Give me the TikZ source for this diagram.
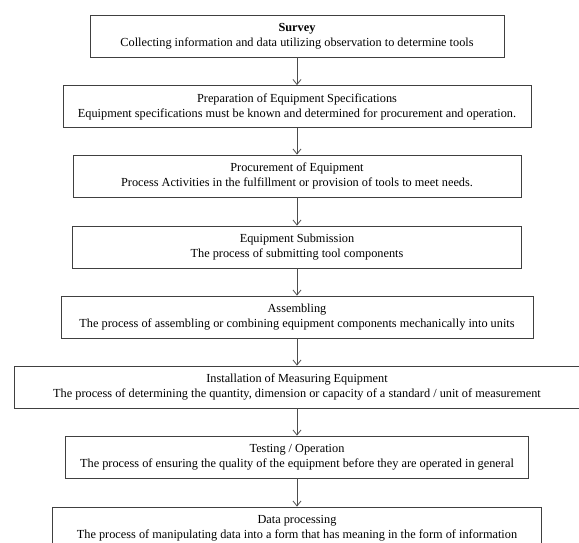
\documentclass[tikz,border=0pt]{standalone}
\usepackage{fontspec}
\setmainfont{Liberation Serif}
\usepackage{tikz}
\usetikzlibrary{arrows.meta}
\tikzset{>={Straight Barb[length=5pt,width=8pt]}}
\tikzset{stepbox/.style={draw=black!75,line width=0.8pt,minimum height=42pt,align=center,inner sep=2pt,font=\fontsize{12.3}{15}\selectfont}}

\begin{document}
\begin{tikzpicture}[x=1pt,y=-1pt]
\useasboundingbox (0,0) rectangle (579,543);
\node [stepbox,minimum width=414pt] (survey) at (297,36) {\textbf{Survey}\\Collecting information and data utilizing observation to determine tools};
\node [stepbox,minimum width=468pt] (spec) at (297,106.5) {Preparation of Equipment Specifications\\Equipment specifications must be known and determined for procurement and operation.};
\node [stepbox,minimum width=448pt] (procure) at (297,176) {Procurement of Equipment\\Process Activities in the fulfillment or provision of tools to meet needs.};
\node [stepbox,minimum width=449pt] (submit) at (297,247) {Equipment Submission\\The process of submitting tool components};
\node [stepbox,minimum width=472pt] (assemble) at (297,317) {Assembling\\The process of assembling or combining equipment components mechanically into units};
\node [stepbox,minimum width=566pt] (install) at (297,387) {Installation of Measuring Equipment\\The process of determining the quantity, dimension or capacity of a standard / unit of measurement};
\node [stepbox,minimum width=463pt] (test) at (297,457) {Testing / Operation\\The process of ensuring the quality of the equipment before they are operated in general};
\node [stepbox,minimum width=489pt] (data) at (297,528) {Data processing\\The process of manipulating data into a form that has meaning in the form of information};
% arrows between the steps
\draw [->,black!70,line width=0.8pt] (survey) -- (spec);
\draw [->,black!70,line width=0.8pt] (spec) -- (procure);
\draw [->,black!70,line width=0.8pt] (procure) -- (submit);
\draw [->,black!70,line width=0.8pt] (submit) -- (assemble);
\draw [->,black!70,line width=0.8pt] (assemble) -- (install);
\draw [->,black!70,line width=0.8pt] (install) -- (test);
\draw [->,black!70,line width=0.8pt] (test) -- (data);
\end{tikzpicture}
\end{document}
